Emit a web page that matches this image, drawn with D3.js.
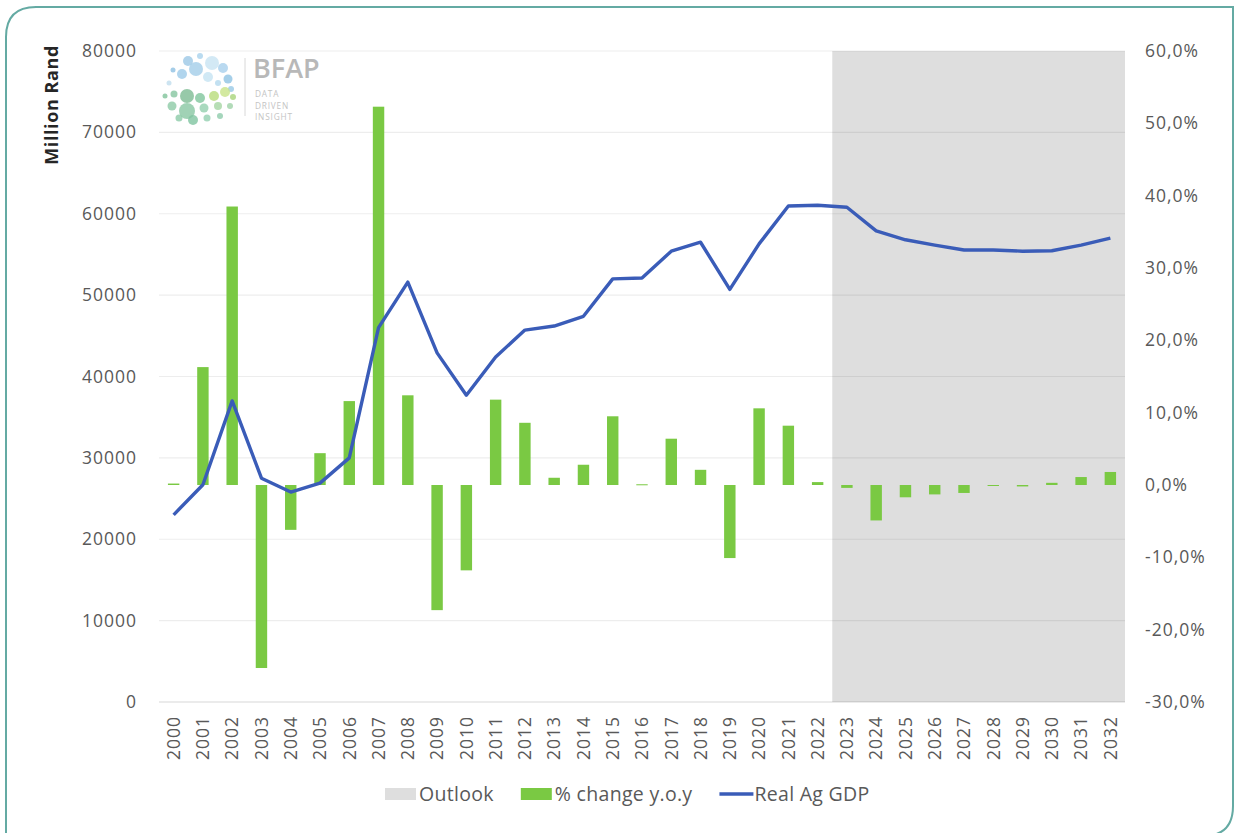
<!DOCTYPE html>
<html>
<head>
<meta charset="utf-8">
<script src="https://cdn.jsdelivr.net/npm/d3@7"></script>
<style>
  body { margin: 0; background: #fff; }
  svg { display: block; font-family: "Open Sans", sans-serif; }
</style>
</head>
<body>
<svg id="chart" width="1239" height="833"></svg>
<script>
// years on the x axis
const years = d3.range(2000, 2033).map(String);
// Real Ag GDP, million rand (left axis)
const realAgGdp = [23000, 26700, 37000, 27500, 25800, 26900, 30000, 46000, 51600, 42900,
                   37700, 42400, 45700, 46200, 47400, 52000, 52100, 55400, 56500, 50700,
                   56300, 60950, 61050, 60800, 57900, 56800, 56150, 55550, 55550, 55400,
                   55450, 56150, 57000];
// % change y.o.y (right axis)
const pctChange = [0.2, 16.3, 38.5, -25.3, -6.2, 4.4, 11.6, 52.3, 12.4, -17.3,
                   -11.8, 11.8, 8.6, 1.0, 2.8, 9.5, 0.1, 6.4, 2.1, -10.1,
                   10.6, 8.2, 0.4, -0.4, -4.9, -1.7, -1.3, -1.1, -0.1, -0.2,
                   0.3, 1.1, 1.8];
const outlookYears = years.filter(y => +y >= 2023);
const leftTicks = d3.range(0, 80001, 10000);
const rightTicks = d3.range(-30, 61, 10);
const legendItems = ["Outlook", "% change y.o.y", "Real Ag GDP"];

const svg = d3.select("#chart");
const margin = {left: 159, right: 114, top: 51, bottom: 131};
const width = 1239, height = 833;
const textColor = "#595959";

// card border
svg.append("path")
    .attr("d", "M6,850 L6,37 Q6,7 36,7 L1233,7 L1233,806 Q1233,836 1203,836 L6,836")
    .attr("fill", "none")
    .attr("stroke", "#64aaa3")
    .attr("stroke-width", 2);

let x = d3.scaleBand()
    .domain(years)
    .range([margin.left, width - margin.right])
    .paddingInner(0.61)
    .paddingOuter(0.305);
let yL = d3.scaleLinear().domain([0, 80000]).range([height - margin.bottom, margin.top]);
let yR = d3.scaleLinear().domain([-30, 60]).range([height - margin.bottom, margin.top]);
const step = x.step();
const cx = d => x(d) + x.bandwidth() / 2;

// outlook shading
const outX0 = cx(outlookYears[0]) - step / 2;
const outX1 = cx(outlookYears[outlookYears.length - 1]) + step / 2;
svg.append("rect")
    .attr("x", outX0)
    .attr("y", yL(80000))
    .attr("width", outX1 - outX0)
    .attr("height", yL(0) - yL(80000))
    .attr("fill", "#dedede");

// gridlines
svg.append("g")
    .selectAll("line")
    .data(leftTicks)
    .join("line")
    .attr("x1", margin.left)
    .attr("x2", width - margin.right)
    .attr("y1", d => yL(d))
    .attr("y2", d => yL(d))
    .attr("stroke", "#000")
    .attr("stroke-opacity", d => d === 0 ? 0.16 : 0.07)
    .attr("stroke-width", 1.2);

// logo (decorative)
const logo = svg.append("g").attr("transform", "translate(160,52)");
const logoDots = [
    [28, 9, 5, "#9cc8e6"], [40, 4, 3, "#a9d2ec"], [52, 11, 7, "#c8e4f3"], [36, 17, 7, "#a3cde9"],
    [22, 22, 5, "#9ecbe8"], [13, 18, 2.5, "#8fc0e2"], [48, 25, 5, "#c5e3f3"], [63, 16, 5, "#a8d0ec"],
    [68, 27, 4.5, "#8fc3e4"], [58, 31, 3, "#b3d8ee"], [9, 31, 2.5, "#c0ddee"], [71, 37, 3, "#99c9e6"],
    [5, 44, 2.5, "#7fc39a"], [14, 42, 3.5, "#86c6a0"], [27, 44, 7, "#7dbb93"], [40, 46, 5, "#7fc59c"],
    [54, 44, 5, "#b8dc7a"], [65, 40, 5, "#c8e388"], [73, 45, 3, "#a9d47a"], [12, 54, 4.5, "#8dcba6"],
    [27, 59, 8, "#88c7a3"], [44, 56, 4.5, "#93cfae"], [58, 54, 4, "#a5d6a2"], [70, 54, 3, "#9fd2a8"],
    [19, 66, 3.5, "#8ccaa8"], [33, 68, 5, "#7fc4a0"], [47, 66, 3.5, "#94cfb0"], [60, 64, 3, "#8fccab"]
];
logo.selectAll("circle")
    .data(logoDots)
    .join("circle")
    .attr("cx", d => d[0])
    .attr("cy", d => d[1])
    .attr("r", d => d[2])
    .attr("fill", d => d[3])
    .attr("opacity", 0.8);
logo.append("line")
    .attr("x1", 85).attr("x2", 85).attr("y1", 6).attr("y2", 64)
    .attr("stroke", "#d8d8d8");
logo.append("text").text("BFAP")
    .attr("x", 93).attr("y", 26)
    .attr("font-size", 27).attr("font-weight", 600)
    .attr("fill", "#b8b8b8");
["DATA", "DRIVEN", "INSIGHT"].forEach((t, i) => {
    logo.append("text").text(t)
        .attr("x", 95).attr("y", 45 + i * 11.6)
        .attr("font-size", 8.3).attr("letter-spacing", 0.8)
        .attr("fill", "#c4c4c4");
});

// bars
svg.append("g")
    .selectAll("rect")
    .data(pctChange)
    .join("rect")
    .attr("x", (d, i) => x(years[i]))
    .attr("width", x.bandwidth())
    .attr("y", d => yR(Math.max(0, d)))
    .attr("height", d => Math.max(1, Math.abs(yR(d) - yR(0))))
    .attr("fill", "#7ac943");

// line
const line = d3.line()
    .x((d, i) => cx(years[i]))
    .y(d => yL(d));
svg.append("path")
    .attr("d", line(realAgGdp))
    .attr("fill", "none")
    .attr("stroke", "#3a5cb8")
    .attr("stroke-width", 3.4)
    .attr("stroke-linejoin", "round");

// axes
const styleAxis = g => {
    g.select(".domain").remove();
    g.selectAll("text")
        .attr("fill", textColor)
        .attr("font-size", 17.5)
        .attr("letter-spacing", 1)
        .attr("font-family", "Open Sans");
};
svg.append("g")
    .attr("transform", `translate(${margin.left},0)`)
    .call(d3.axisLeft(yL).tickValues(leftTicks).tickSize(0).tickPadding(22).tickFormat(d3.format("d")))
    .call(styleAxis);

svg.append("clipPath").attr("id", "rclip")
    .append("rect").attr("x", 1100).attr("y", 0).attr("width", 108).attr("height", height);
svg.append("g")
    .attr("clip-path", "url(#rclip)")
    .append("g")
    .attr("transform", `translate(${width - margin.right},0)`)
    .call(d3.axisRight(yR).tickValues(rightTicks).tickSize(0).tickPadding(20)
        .tickFormat(d => d.toFixed(1).replace(".", ",") + "%"))
    .call(styleAxis);

svg.append("g")
    .attr("transform", `translate(0,${height - margin.bottom})`)
    .call(d3.axisBottom(x).tickSize(0))
    .call(styleAxis)
    .selectAll("text")
    .attr("transform", "rotate(-90)")
    .attr("x", -14)
    .attr("y", 0)
    .attr("dy", "0.36em")
    .style("text-anchor", "end");

// y axis title
svg.append("text")
    .text("Million Rand")
    .attr("transform", "translate(58,45) rotate(-90)")
    .attr("text-anchor", "end")
    .attr("font-size", 18)
    .attr("font-weight", 700)
    .attr("letter-spacing", 0.6)
    .attr("fill", "#262626");

// legend
const legend = svg.append("g").attr("transform", "translate(385,794)");
let lx = 0;
legendItems.forEach((name, i) => {
    if (i === 0) {
        legend.append("rect").attr("x", lx).attr("y", -6).attr("width", 31).attr("height", 12).attr("fill", "#dedede");
    } else if (i === 1) {
        legend.append("rect").attr("x", lx).attr("y", -6).attr("width", 31).attr("height", 12).attr("fill", "#7ac943");
    } else {
        legend.append("line").attr("x1", lx).attr("x2", lx + 34).attr("y1", 0).attr("y2", 0)
            .attr("stroke", "#3a5cb8").attr("stroke-width", 3.4);
    }
    const t = legend.append("text")
        .text(name)
        .attr("x", lx + (i === 2 ? 35 : 34))
        .attr("dy", "0.35em")
        .attr("font-size", 19.5)
        .attr("letter-spacing", 0.3)
        .attr("fill", textColor);
    lx += (i === 2 ? 35 : 34) + t.node().getComputedTextLength() + 27;
});
</script>
</body>
</html>
